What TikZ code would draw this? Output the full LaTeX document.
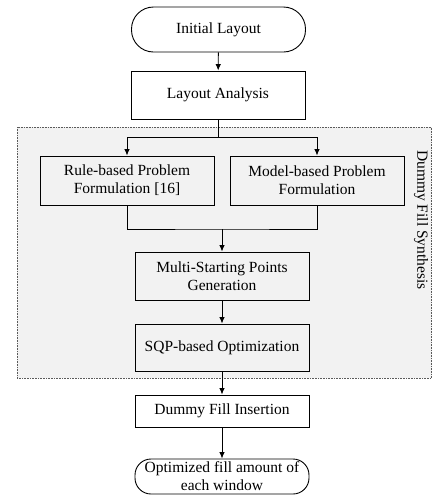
\documentclass[tikz,border=0pt]{standalone}
\usepackage{fontspec}
\setmainfont{Liberation Serif}
\usepackage{tikz}
\usetikzlibrary{arrows.meta}
\definecolor{synthbg}{RGB}{242, 242, 242}
\definecolor{synthedge}{RGB}{90, 90, 90}

\begin{document}
\begin{tikzpicture}[x=1pt, y=-1pt, >={Latex[length=6.5pt, width=5.5pt]}, line width=0.9pt,
	every node/.style={font=\fontsize{15.5}{18}\selectfont, align=center, inner sep=2pt},
	stepbox/.style={draw, minimum width=174pt},
	termbox/.style={draw, minimum width=174pt, rounded corners=#1}]
	
	% Fix the page to the size of the reference
	\useasboundingbox (0, 0) rectangle (432, 504);
	
	% --- Dummy Fill Synthesis region ---
	\draw[fill=synthbg, draw=synthedge, line width=0.6pt, dash pattern=on 0.8pt off 0.8pt] (17, 127) rectangle (431.5, 378);
	\node[rotate=-90] (synthtag) at (421, 220) {Dummy Fill Synthesis};
	
	% --- Top of the flow ---
	\node[termbox=22pt, minimum height=45pt] (initlayout) at (218.5, 29.5) {Initial Layout};
	\node[stepbox, minimum height=48pt] (analysis) at (218, 95) {Layout Analysis};
	\draw[->] (initlayout) -- (analysis);
	
	% --- Two formulations ---
	\node[stepbox, minimum height=49pt] (rulebox) at (127, 180.5) {Rule-based Problem\\Formulation [16]};
	\node[stepbox, minimum height=49pt] (modelbox) at (317, 180.5) {Model-based Problem\\Formulation};
	\coordinate (split) at (218, 137);
	\draw (analysis) -- (split);
	\draw[->] (split) -| (rulebox);
	\draw[->] (split) -| (modelbox);
	
	% --- Solving ---
	\node[stepbox, minimum height=48pt] (multistart) at (222, 276) {Multi-Starting Points\\Generation};
	\node[stepbox, minimum height=47pt] (sqpopt) at (222, 347.5) {SQP-based Optimization};
	\coordinate (merge) at (222, 229);
	\draw (rulebox) |- (merge) -| (modelbox);
	\draw[->] (merge) -- (multistart);
	\draw[->] (multistart) -- (sqpopt);
	
	% --- Output ---
	\node[stepbox, minimum height=32pt] (insertion) at (222, 411) {Dummy Fill Insertion};
	\node[termbox=16pt, minimum height=35pt, inner sep=1pt] (result) at (222, 476.5) {Optimized fill amount of\\each window};
	\draw[->] (sqpopt) -- (insertion);
	\draw[->] (insertion) -- (result);
\end{tikzpicture}
\end{document}
